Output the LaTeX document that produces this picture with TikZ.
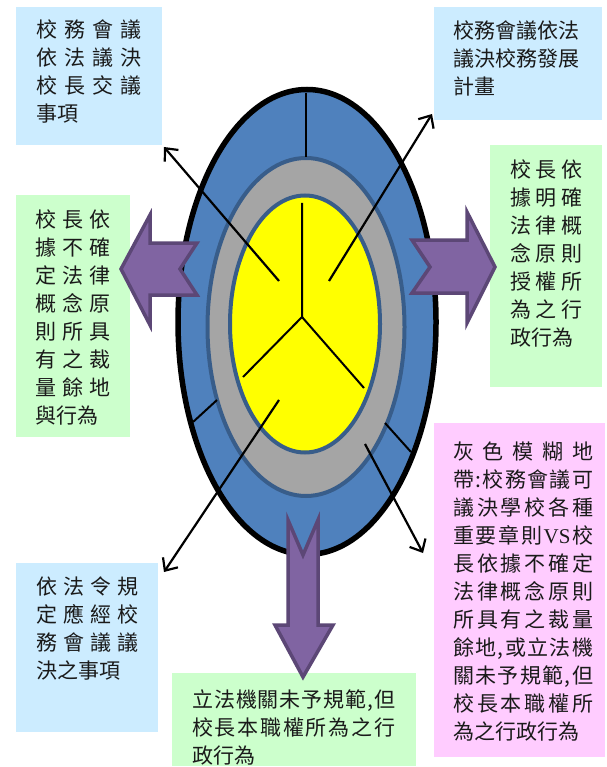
\documentclass[tikz,border=0pt]{standalone}
\usepackage{fontspec}
\newfontfamily\cjk{Noto Sans CJK TC}
\newfontfamily\lat{Liberation Serif}
\usetikzlibrary{arrows.meta}
\definecolor{ringblue}{HTML}{4F81BD}
\definecolor{edgeblue}{HTML}{385D8A}
\definecolor{ringgray}{HTML}{A5A5A5}
\definecolor{coreyellow}{HTML}{FFFF00}
\definecolor{arrowpurple}{HTML}{8064A2}
\definecolor{arrowedge}{HTML}{5C4776}
\definecolor{boxblue}{HTML}{CCECFF}
\definecolor{boxgreen}{HTML}{CCFFCC}
\definecolor{boxpink}{HTML}{FFCCFF}
\definecolor{txt}{HTML}{1A1A1A}
\makeatletter
\newcommand\spreadline[2]{\hbox to #1{\let\sp@sep\relax\@tfor\sp@c:=#2\do{\sp@sep\sp@c\let\sp@sep\hfil}}}
\makeatother
\tikzset{
  boxbg/.style={draw=none, inner sep=0pt, anchor=north west},
  txtnode/.style={inner sep=0pt, anchor=north west, align=left, text=txt,
    font=\cjk\fontsize{21}{28}\selectfont},
  thinarrow/.style={line width=2.2pt, -{Straight Barb[length=10pt,width=18pt,line width=2.2pt]}},
  divider/.style={line width=2pt},
  blockarrow/.style={fill=arrowpurple, draw=arrowedge, line width=3.5pt, line join=miter},
}
\begin{document}
\begin{tikzpicture}[x=1pt,y=-1pt]
\useasboundingbox (0,0) rectangle (606,767);
\fill[white] (0,0) rectangle (606,767);

% text boxes
\node[boxbg, fill=boxblue, minimum width=146, minimum height=138] (tlbox) at (16,7) {};
\node[boxbg, fill=boxblue, minimum width=168, minimum height=113] (trbox) at (434,7) {};
\node[boxbg, fill=boxgreen, minimum width=112, minimum height=242] (rbox) at (490,145) {};
\node[boxbg, fill=boxgreen, minimum width=114, minimum height=242] (lbox) at (16,195) {};
\node[boxbg, fill=boxblue, minimum width=142, minimum height=169] (blbox) at (16,563) {};
\node[boxbg, fill=boxgreen, minimum width=244, minimum height=93] (bbox) at (172,673) {};
\node[boxbg, fill=boxpink, minimum width=171, minimum height=334] (pbox) at (434,423) {};

% ellipses
\coordinate (outc) at (307,322);
\fill[ringblue, draw=black, line width=5.5pt] (outc) ellipse [x radius=129, y radius=232.5];
\coordinate (grayc) at (306,327);
\fill[ringgray, draw=edgeblue, line width=4pt] (grayc) ellipse [x radius=98.5, y radius=169];
\coordinate (yelc) at (305,324);
\fill[coreyellow, draw=edgeblue, line width=4pt] (yelc) ellipse [x radius=75, y radius=128.5];

% divider lines
\coordinate (topA) at (306,93); \coordinate (topB) at (306,157);
\coordinate (hub) at (302,317); \coordinate (hubT) at (302,203);
\coordinate (hubL) at (243,377); \coordinate (hubR) at (364,388);
\coordinate (llA) at (217,400); \coordinate (llB) at (193,422);
\coordinate (lrA) at (385,423); \coordinate (lrB) at (411,452);
\draw[divider] (topA) -- (topB);
\draw[divider] (hubT) -- (hub) -- (hubL);
\draw[divider] (hub) -- (hubR);
\draw[divider] (llA) -- (llB);
\draw[divider] (lrA) -- (lrB);

% thin arrows
\coordinate (ulS) at (279,281); \coordinate (ulE) at (164,147);
\coordinate (urS) at (329,281); \coordinate (urE) at (432,114);
\coordinate (dlS) at (279,400); \coordinate (dlE) at (164,572);
\coordinate (drS) at (365,444); \coordinate (drE) at (423,553);
\draw[thinarrow] (ulS) -- (ulE);
\draw[thinarrow] (urS) -- (urE);
\draw[thinarrow] (dlS) -- (dlE);
\draw[thinarrow] (drS) -- (drE);

% block arrows
\draw[blockarrow] (121,269) -- (150,215) -- (150,243) -- (197,243) -- (180,269) -- (197,295) -- (150,295) -- (150,325) -- cycle;
\draw[blockarrow] (495,267) -- (467,212) -- (467,240) -- (412,240) -- (430,267) -- (412,293) -- (467,293) -- (467,323) -- cycle;
\draw[blockarrow] (303,677) -- (275,625) -- (288,625) -- (288,520) -- (303,555) -- (318,520) -- (318,625) -- (333,625) -- cycle;

% texts
\node[txtnode] (tltext) at (36,19.5) {\spreadline{105pt}{校務會議}\\\spreadline{105pt}{依法議決}\\\spreadline{105pt}{校長交議}\\事項};
\node[txtnode] (trtext) at (453,20.5) {校務會議依法\\議決校務發展\\計畫};
\node[txtnode] (rtext) at (510,159.5) {\spreadline{72pt}{校長依}\\\spreadline{72pt}{據明確}\\\spreadline{72pt}{法律概}\\\spreadline{72pt}{念原則}\\\spreadline{72pt}{授權所}\\\spreadline{72pt}{為之行}\\政行為};
\node[txtnode] (ltext) at (35,209.5) {\spreadline{75pt}{校長依}\\\spreadline{75pt}{據不確}\\\spreadline{75pt}{定法律}\\\spreadline{75pt}{概念原}\\\spreadline{75pt}{則所具}\\\spreadline{75pt}{有之裁}\\\spreadline{75pt}{量餘地}\\與行為};
\node[txtnode] (bltext) at (36,576.5) {\spreadline{102pt}{依法令規}\\\spreadline{102pt}{定應經校}\\\spreadline{102pt}{務會議議}\\決之事項};
\node[txtnode] (btext) at (192,689.5) {\spreadline{203pt}{立法機關未予規範,但}\\\spreadline{203pt}{校長本職權所為之行}\\政行為};
\node[txtnode] (ptext) at (453,441.5) {\spreadline{140pt}{灰色模糊地}\\\spreadline{140pt}{帶:校務會議可}\\\spreadline{140pt}{議決學校各種}\\\spreadline{140pt}{重要章則{{\lat VS}}校}\\\spreadline{140pt}{長依據不確定}\\\spreadline{140pt}{法律概念原則}\\\spreadline{140pt}{所具有之裁量}\\\spreadline{140pt}{餘地,或立法機}\\\spreadline{140pt}{關未予規範,但}\\\spreadline{140pt}{校長本職權所}\\為之行政行為};
\end{tikzpicture}
\end{document}
